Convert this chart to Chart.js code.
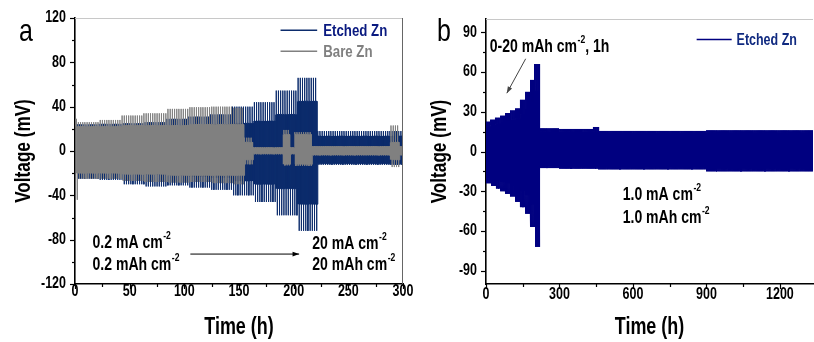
<!DOCTYPE html>
<html>
<head>
<meta charset="utf-8">
<script src="https://cdn.jsdelivr.net/npm/chart.js@4.4.1/dist/chart.umd.min.js"></script>
<style>
  body { margin: 0; background: #fff; width: 814px; height: 342px; overflow: hidden; position: relative; }
  .box { position: absolute; top: 0; height: 342px; }
  #boxA { left: 0; width: 440px; }
  #boxB { left: 410px; width: 404px; }
</style>
</head>
<body>
<div class="box" id="boxA"><canvas id="chartA" width="440" height="342"></canvas></div>
<div class="box" id="boxB"><canvas id="chartB" width="404" height="342"></canvas></div>
<script>
// envelopes: step boundaries (h) and, per step,
// spike high / plateau high / plateau low / spike low (mV)

// panel a - Bare Zn
const bareSteps  = [1, 3, 22, 43, 63, 84, 104, 124, 144, 155, 163, 190, 197, 201, 216, 288, 297, 300];
const bareHi     = [29, 26, 28, 32, 34, 38, 39.5, 40, 39, 12, 3.5, 19, 3.5, 17, 4.5, 23, 4.5];
const barePlatHi = [22, 22, 22, 23, 23, 23, 24, 24, 24, 8, 3, 15, 3, 15, 4, 8, 4];
const barePlatLo = [-20, -20, -20, -21, -21, -22, -22, -22, -22, -8, -2.5, -12, -2.5, -12, -3.5, -8, -3.5];
const bareLo     = [-44, -25, -25, -27, -28, -28.5, -28, -29, -30, -12, -3, -13, -3, -13.5, -4, -14.5, -4];

// panel a - Etched Zn
const etchSteps  = [2, 22, 43, 63, 84, 104, 124, 144, 163, 183, 203, 222, 300];
const etchHi     = [24, 24.5, 25, 26, 29, 31, 33, 40, 44, 54.5, 66, 18];
const etchPlatHi = [20, 20, 20, 21, 22, 23, 24, 25, 27, 33, 45, 13.5];
const etchPlatLo = [-19, -19, -20, -21, -22, -23, -24, -27, -30, -34, -48, -11.5];
const etchLo     = [-25, -26, -30, -32, -31, -33, -35, -40, -46, -58, -72, -12.5];

// panel b - Etched Zn, long run
const longSteps  = [0, 20, 40, 60, 80, 100, 120, 140, 160, 180, 200, 220, 300, 440, 460, 900, 1335];
const longHi     = [22.5, 24, 25.5, 27, 29, 31, 32.5, 39, 45, 54, 66, 17.5, 17, 18.5, 15.5, 16];
const longPlatHi = [19, 20, 21, 22, 23, 24, 25, 28, 32, 38, 46, 15, 15, 15, 14, 14.5];
const longPlatLo = [-20, -21, -22, -23, -24, -25, -27, -30, -33, -40, -50, -11, -11.5, -11.5, -12, -13];
const longLo     = [-24, -26, -28, -30, -32, -34, -38, -42, -47, -57, -72, -12.5, -13, -13, -13.5, -15];

// tick labels
const xTicksA = [0, 50, 100, 150, 200, 250, 300];
const yTicksA = [-120, -80, -40, 0, 40, 80, 120];
const xTicksB = [0, 300, 600, 900, 1200];
const yTicksB = [-90, -60, -30, 0, 30, 60, 90];

const FONT = "'Liberation Sans', Arial, sans-serif";
const SX = 0.78; // the figure's lettering is horizontally condensed
const NAVY_A = '#0c2c6c';
const NAVY_B = '#000080';
const GRAY = '#808080';

// 1 h plating / 1 h stripping per cycle, envelope taken from the step the cycle falls in
function cycles(steps, hi, pHi, pLo, lo) {
    let pts = [];
    let last = steps[steps.length - 1];
    let i = 0;
    for (let t = steps[0]; t < last - 0.01; t += 2) {
        while (t >= steps[i + 1]) i++;
        let mid = Math.min(t + 1, last);
        let fin = Math.min(t + 2, last);
        pts.push({x: t, y: hi[i]}, {x: t + 0.15, y: pHi[i]}, {x: mid, y: pHi[i]});
        if (mid < last) {
            pts.push({x: mid, y: lo[i]}, {x: mid + 0.15, y: pLo[i]}, {x: fin, y: pLo[i]});
        }
    }
    return pts;
}

// plateau envelope as a step line
function band(steps, vals) {
    let pts = [];
    vals.forEach((v, i) => pts.push({x: steps[i], y: v}, {x: steps[i + 1], y: v}));
    return pts;
}

function series(name, color, steps, hi, pHi, pLo, lo) {
    return [
        {label: name, data: cycles(steps, hi, pHi, pLo, lo), borderColor: color, borderWidth: 1, fill: false},
        {label: name + ' band', data: band(steps, pHi), borderWidth: 0, borderColor: 'transparent', backgroundColor: color, fill: '+1'},
        {label: name + ' band low', data: band(steps, pLo), borderWidth: 0, borderColor: 'transparent', fill: false}
    ];
}

function label(ctx, str, x, y, size, o = {}) {
    ctx.save();
    ctx.translate(x, y);
    if (o.rot) ctx.rotate(o.rot);
    ctx.scale(SX, 1);
    ctx.font = `${o.weight || 'bold'} ${size}px ${FONT}`;
    ctx.fillStyle = o.color || '#000';
    ctx.textAlign = o.align || 'left';
    ctx.textBaseline = 'middle';
    ctx.fillText(str, 0, 0);
    let w = ctx.measureText(str).width * SX;
    ctx.restore();
    return w;
}

function sup(ctx, x, y, base, exp, size, color) {
    let w = label(ctx, base, x, y, size, {color});
    let w2 = label(ctx, exp, x + w + 0.5, y - size * 0.38, Math.round(size * 0.62), {color});
    return x + w + 0.5 + w2;
}

function arrow(ctx, x1, y1, x2, y2, color, head) {
    ctx.save();
    ctx.strokeStyle = color;
    ctx.fillStyle = color;
    ctx.lineWidth = 1;
    ctx.beginPath();
    ctx.moveTo(x1, y1);
    ctx.lineTo(x2, y2);
    ctx.stroke();
    let a = Math.atan2(y2 - y1, x2 - x1);
    ctx.beginPath();
    ctx.moveTo(x2, y2);
    ctx.lineTo(x2 - head * Math.cos(a - 0.35), y2 - head * Math.sin(a - 0.35));
    ctx.lineTo(x2 - head * Math.cos(a + 0.35), y2 - head * Math.sin(a + 0.35));
    ctx.closePath();
    ctx.fill();
    ctx.restore();
}

function legendLine(chart, x1, x2, yv, color) {
    const {ctx, scales: {x, y}} = chart;
    ctx.save();
    ctx.lineWidth = 1.6;
    ctx.strokeStyle = color;
    ctx.beginPath();
    ctx.moveTo(x.getPixelForValue(x1), y.getPixelForValue(yv));
    ctx.lineTo(x.getPixelForValue(x2), y.getPixelForValue(yv));
    ctx.stroke();
    ctx.restore();
}

function frame(chart, cfg) {
    const {ctx, chartArea: a, scales: {x, y}} = chart;
    ctx.save();
    ctx.strokeStyle = '#c8c8c8';
    ctx.lineWidth = 1;
    ctx.beginPath();
    ctx.moveTo(a.left, a.top + 0.5);
    ctx.lineTo(a.right, a.top + 0.5);
    ctx.stroke();
    if (cfg.rightFrame) {
        ctx.strokeStyle = '#666';
        ctx.beginPath();
        ctx.moveTo(a.right - 0.5, a.top);
        ctx.lineTo(a.right - 0.5, a.bottom);
        ctx.stroke();
    }
    ctx.strokeStyle = '#000';
    ctx.lineWidth = 1.2;
    for (let i = 0; x.min + i * cfg.xMinor <= x.max + 1e-6; i++) {
        let px = Math.round(x.getPixelForValue(x.min + i * cfg.xMinor)) + 0.5;
        ctx.beginPath();
        ctx.moveTo(px, a.bottom);
        ctx.lineTo(px, a.bottom + (i % 2 ? 3 : 5));
        ctx.stroke();
    }
    for (let v = cfg.yTicks[0] - cfg.yMinor; v <= y.max + 1e-6; v += cfg.yMinor) {
        if (v < y.min - 1e-6) continue;
        let py = Math.round(y.getPixelForValue(v)) + 0.5;
        let major = cfg.yTicks.includes(v);
        ctx.beginPath();
        ctx.moveTo(a.left, py);
        ctx.lineTo(a.left - (major ? 5 : 3), py);
        ctx.stroke();
    }
    ctx.restore();
    cfg.xTicks.forEach(v => label(ctx, String(v), x.getPixelForValue(v), cfg.xLabelY, 16, {align: 'center'}));
    cfg.yTicks.forEach(v => label(ctx, String(v), a.left - 9, y.getPixelForValue(v), 16, {align: 'right'}));
    label(ctx, 'Time (h)', (a.left + a.right) / 2, 328, 23, {align: 'center'});
    label(ctx, 'Voltage (mV)', cfg.yTitleX, (a.top + a.bottom) / 2, 22, {align: 'center', rot: -Math.PI / 2});
}

function axes(xMax, yMin, yMax, yWidth) {
    return {
        x: {
            type: 'linear', min: 0, max: xMax,
            grid: {display: false},
            border: {display: true, color: '#000', width: 1.6},
            ticks: {display: false},
            afterFit: (s) => { s.height = 57; }
        },
        y: {
            min: yMin, max: yMax,
            grid: {display: false},
            border: {display: true, color: '#000', width: 1.6},
            ticks: {display: false},
            afterFit: (s) => { s.width = yWidth; }
        }
    };
}

const baseOpts = {
    responsive: false,
    animation: false,
    events: [],
    plugins: {legend: {display: false}, tooltip: {enabled: false}},
    elements: {point: {radius: 0}, line: {tension: 0, borderJoinStyle: 'miter'}}
};

new Chart(document.getElementById('chartA'), {
    type: 'line',
    data: {
        datasets: [
            ...series('Bare Zn', GRAY, bareSteps, bareHi, barePlatHi, barePlatLo, bareLo),
            ...series('Etched Zn', NAVY_A, etchSteps, etchHi, etchPlatHi, etchPlatLo, etchLo)
        ]
    },
    options: Object.assign({}, baseOpts, {
        layout: {padding: {left: 12, top: 18, right: 37, bottom: 1}},
        scales: axes(300, -120, 120, 63)
    }),
    plugins: [{
        id: 'decorA',
        afterDraw(chart) {
            const {ctx, scales: {x, y}} = chart;
            frame(chart, {xMinor: 25, yMinor: 20, yTicks: yTicksA, xTicks: xTicksA, xLabelY: 292, yTitleX: 23.5, rightFrame: true});
            label(ctx, 'a', 19, 32, 32, {weight: 'normal'});
            legendLine(chart, 188, 221.5, 109, NAVY_A);
            legendLine(chart, 188, 221.5, 90, GRAY);
            label(ctx, 'Etched Zn', x.getPixelForValue(227), y.getPixelForValue(108), 17, {color: '#0a1a80'});
            label(ctx, 'Bare Zn', x.getPixelForValue(227), y.getPixelForValue(89), 17, {color: GRAY});
            sup(ctx, x.getPixelForValue(16), y.getPixelForValue(-83), '0.2 mA cm', '-2', 18);
            sup(ctx, x.getPixelForValue(16), y.getPixelForValue(-103), '0.2 mAh cm', '-2', 18);
            sup(ctx, x.getPixelForValue(217), y.getPixelForValue(-84), '20 mA cm', '-2', 18);
            sup(ctx, x.getPixelForValue(217), y.getPixelForValue(-103), '20 mAh cm', '-2', 18);
            arrow(ctx, x.getPixelForValue(105.5), y.getPixelForValue(-93), x.getPixelForValue(205), y.getPixelForValue(-93), '#000', 7);
        }
    }]
});

new Chart(document.getElementById('chartB'), {
    type: 'line',
    data: {
        datasets: series('Etched Zn', NAVY_B, longSteps, longHi, longPlatHi, longPlatLo, longLo)
    },
    options: Object.assign({}, baseOpts, {
        layout: {padding: {left: 19, top: 19, right: 1, bottom: 1}},
        scales: axes(1335, -100, 100, 57)
    }),
    plugins: [{
        id: 'decorB',
        afterDraw(chart) {
            const {ctx, scales: {x, y}} = chart;
            frame(chart, {xMinor: 150, yMinor: 15, yTicks: yTicksB, xTicks: xTicksB, xLabelY: 295, yTitleX: 30, rightFrame: false});
            label(ctx, 'b', 27, 32, 32, {weight: 'normal'});
            legendLine(chart, 860, 1003, 84.5, NAVY_B);
            label(ctx, 'Etched Zn', x.getPixelForValue(1023), y.getPixelForValue(84), 16, {color: '#102a80'});
            let end = sup(ctx, x.getPixelForValue(15), y.getPixelForValue(79), '0-20 mAh cm', '-2', 18);
            label(ctx, ', 1h', end, y.getPixelForValue(79), 18);
            arrow(ctx, x.getPixelForValue(162), y.getPixelForValue(70), x.getPixelForValue(85), y.getPixelForValue(44), '#444', 7);
            sup(ctx, x.getPixelForValue(558), y.getPixelForValue(-32.5), '1.0 mA cm', '-2', 18);
            sup(ctx, x.getPixelForValue(558), y.getPixelForValue(-50), '1.0 mAh cm', '-2', 18);
        }
    }]
});
</script>
</body>
</html>
